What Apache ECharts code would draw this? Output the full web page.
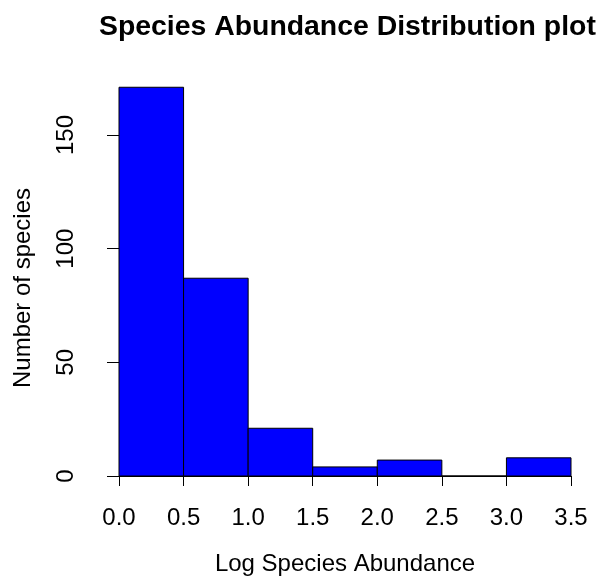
<!DOCTYPE html>
<html>
<head>
<meta charset="utf-8">
<script src="https://cdn.jsdelivr.net/npm/echarts@6/dist/echarts.min.js"></script>
<style>
  html, body { margin: 0; padding: 0; background: #fff; }
  #chart { width: 601px; height: 581px; }
</style>
</head>
<body>
<div id="chart"></div>
<script>
// Histogram bins (log10 abundance) and species counts per bin
const binStarts = [0.0, 0.5, 1.0, 1.5, 2.0, 2.5, 3.0];
const binEnds   = [0.5, 1.0, 1.5, 2.0, 2.5, 3.0, 3.5];
const counts    = [171, 87, 21, 4, 7, 0, 8];

const xTicks = [0.0, 0.5, 1.0, 1.5, 2.0, 2.5, 3.0, 3.5];
const yTicks = [0, 50, 100, 150];

const FONT = '"Liberation Sans", Arial, Helvetica, sans-serif';

const histData = binStarts.map((s, i) => [s, binEnds[i], counts[i]]);

const chart = echarts.init(document.getElementById('chart'), null, { renderer: 'canvas' });

chart.setOption({
  animation: false,
  backgroundColor: '#ffffff',
  title: {
    text: 'Species Abundance Distribution plot',
    left: 99,
    top: 13,
    padding: 0,
    textStyle: { fontFamily: FONT, fontWeight: 'bold', fontSize: 28.4, color: '#000' }
  },
  grid: { left: 119, right: 30, top: 135, bottom: 102, containLabel: false },
  xAxis: {
    type: 'value',
    min: xTicks[0],
    max: xTicks[xTicks.length - 1],
    interval: 0.5,
    offset: 16,
    splitLine: { show: false },
    axisLine: { show: true, lineStyle: { color: '#000', width: 1 } },
    axisTick: { show: true, length: 10, lineStyle: { color: '#000' } },
    axisLabel: {
      margin: 14,
      fontFamily: FONT, fontSize: 24, color: '#000',
      formatter: v => Number(v).toFixed(1)
    },
    name: 'Log Species Abundance',
    nameLocation: 'middle',
    nameGap: 60,
    nameTextStyle: { fontFamily: FONT, fontSize: 24, color: '#000' }
  },
  yAxis: {
    type: 'value',
    min: yTicks[0],
    max: yTicks[yTicks.length - 1],
    interval: 50,
    offset: 19,
    splitLine: { show: false },
    axisLine: { show: true, lineStyle: { color: '#000', width: 1 } },
    axisTick: { show: true, length: 12, lineStyle: { color: '#000' } },
    axisLabel: {
      rotate: 90,
      margin: 22,
      fontFamily: FONT, fontSize: 24, color: '#000'
    }
  },
  graphic: [{
    type: 'text',
    x: 23,
    y: 288,
    rotation: Math.PI / 2,
    style: {
      text: 'Number of species',
      fontFamily: FONT, fontSize: 24, fill: '#000',
      align: 'center', verticalAlign: 'middle'
    }
  }],
  series: [{
    type: 'custom',
    clip: false,
    data: histData,
    encode: { x: [0, 1], y: 2 },
    renderItem: function (params, api) {
      const p0 = api.coord([api.value(0), 0]);
      const p1 = api.coord([api.value(1), api.value(2)]);
      return {
        type: 'rect',
        shape: { x: p0[0], y: p1[1], width: p1[0] - p0[0], height: p0[1] - p1[1] },
        style: { fill: '#0000ff', stroke: '#000000', lineWidth: 1 }
      };
    }
  }]
});
</script>
</body>
</html>
